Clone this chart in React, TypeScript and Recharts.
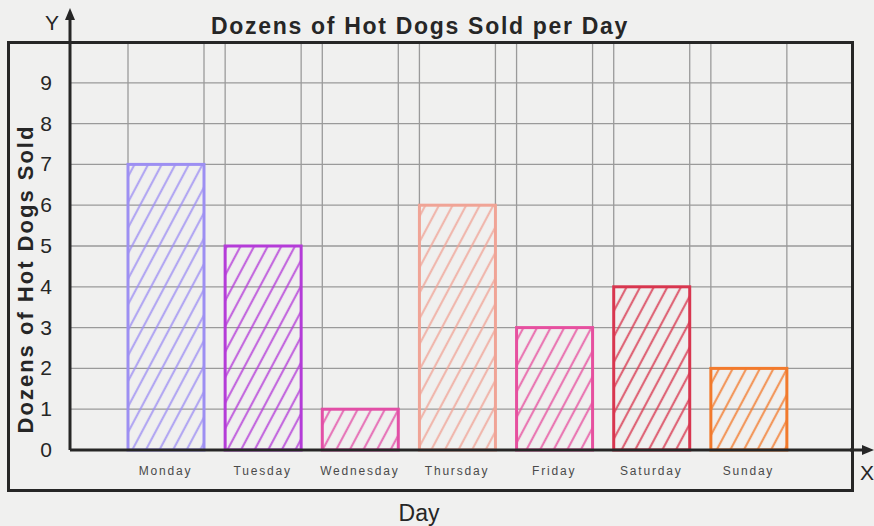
import { BarChart, Bar, XAxis, YAxis, CartesianGrid, Cell } from "recharts";

const DAYS = ["Monday", "Tuesday", "Wednesday", "Thursday", "Friday", "Saturday", "Sunday"];
const DOZENS = [7, 5, 1, 6, 3, 4, 2];
const BAR_COLORS = ["#9d8ff2", "#b43cd8", "#e24fa6", "#f0a496", "#e6509f", "#d8364f", "#f27a2c"];
const Y_TICKS = [0, 1, 2, 3, 4, 5, 6, 7, 8, 9, 10];

const data = DAYS.map((day, i) => ({ day, dozens: DOZENS[i] }));

const PLOT_TOP = 42;
const FONT = "'Liberation Sans', Arial, sans-serif";
const INK = "#262626";
const GRID = "#9a9a9a";

function HandBar(props: any) {
  const { x, y, width, height, index } = props;
  const color = BAR_COLORS[index];
  const bottom = y + height;
  return (
    <g>
      <line x1={x} x2={x} y1={PLOT_TOP} y2={bottom} stroke={GRID} strokeWidth={1.3} />
      <line x1={x + width} x2={x + width} y1={PLOT_TOP} y2={bottom} stroke={GRID} strokeWidth={1.3} />
      <rect x={x} y={y} width={width} height={height} fill={`url(#hatch-${index})`} stroke={color} strokeWidth={3} />
    </g>
  );
}

function YTick(props: any) {
  const { x, y, payload } = props;
  if (payload.value === 10) return null;
  return (
    <text x={x} y={y} dy={7} textAnchor="end" fontSize={21} fill={INK} fontFamily={FONT}>
      {payload.value}
    </text>
  );
}

export default function App() {
  return (
    <div style={{ position: "absolute", left: 0, top: 0, width: 874, height: 526, background: "#f0f0ef" }}>
      <svg width={0} height={0} style={{ position: "absolute" }}>
        <defs>
          {BAR_COLORS.map((c, i) => (
            <pattern key={c} id={`hatch-${i}`} patternUnits="userSpaceOnUse" width={12} height={12} patternTransform="rotate(-62)">
              <path d="M0 4 L12 4" stroke={c} strokeWidth={2.2} strokeOpacity={0.75} fill="none" />
            </pattern>
          ))}
        </defs>
      </svg>
      <BarChart width={874} height={526} data={data} margin={{ top: PLOT_TOP, right: 22, bottom: 46, left: 8 }} barSize={76}>
        <CartesianGrid vertical={false} stroke={GRID} strokeWidth={1.3} />
        <XAxis
          dataKey="day"
          height={30}
          padding={{ left: 47, right: 55 }}
          tickLine={false}
          axisLine={{ stroke: INK, strokeWidth: 3 }}
          tick={{ fontSize: 12, fill: "#4a4a4a", fontFamily: FONT, letterSpacing: 1.8 }}
          tickMargin={10}
          interval={0}
        />
        <YAxis
          width={62}
          domain={[0, 10]}
          ticks={Y_TICKS}
          tickLine={false}
          axisLine={{ stroke: INK, strokeWidth: 3 }}
          tick={<YTick />}
          tickMargin={12}
        />
        <Bar dataKey="dozens" shape={<HandBar />} isAnimationActive={false}>
          {data.map((d, i) => (
            <Cell key={d.day} fill={BAR_COLORS[i]} />
          ))}
        </Bar>
      </BarChart>
      <svg width={874} height={526} style={{ position: "absolute", left: 0, top: 0, pointerEvents: "none" }}>
        <rect x={8.5} y={42.5} width={844} height={448} fill="none" stroke={INK} strokeWidth={3} />
        <line x1={70} x2={70} y1={14} y2={44} stroke={INK} strokeWidth={3} />
        <path d="M65 20 L70 8 L75 20 Z" fill={INK} />
        <line x1={850} x2={866} y1={450} y2={450} stroke={INK} strokeWidth={3} />
        <path d="M862 445 L874 450 L862 455 Z" fill={INK} />
        <text x={52} y={30} textAnchor="middle" fontSize={21} fill={INK} fontFamily={FONT}>Y</text>
        <text x={867} y={480} textAnchor="middle" fontSize={21} fill={INK} fontFamily={FONT}>X</text>
        <text x={420} y={34} textAnchor="middle" fontSize={23} fontWeight="bold" letterSpacing={1.7} fill={INK} fontFamily={FONT}>
          Dozens of Hot Dogs Sold per Day
        </text>
        <text
          x={33}
          y={279}
          transform="rotate(-90 33 279)"
          textAnchor="middle"
          fontSize={22}
          fontWeight="bold"
          letterSpacing={2}
          fill={INK}
          fontFamily={FONT}
        >
          Dozens of Hot Dogs Sold
        </text>
        <text x={419} y={521} textAnchor="middle" fontSize={23} fill={INK} fontFamily={FONT}>Day</text>
      </svg>
    </div>
  );
}
